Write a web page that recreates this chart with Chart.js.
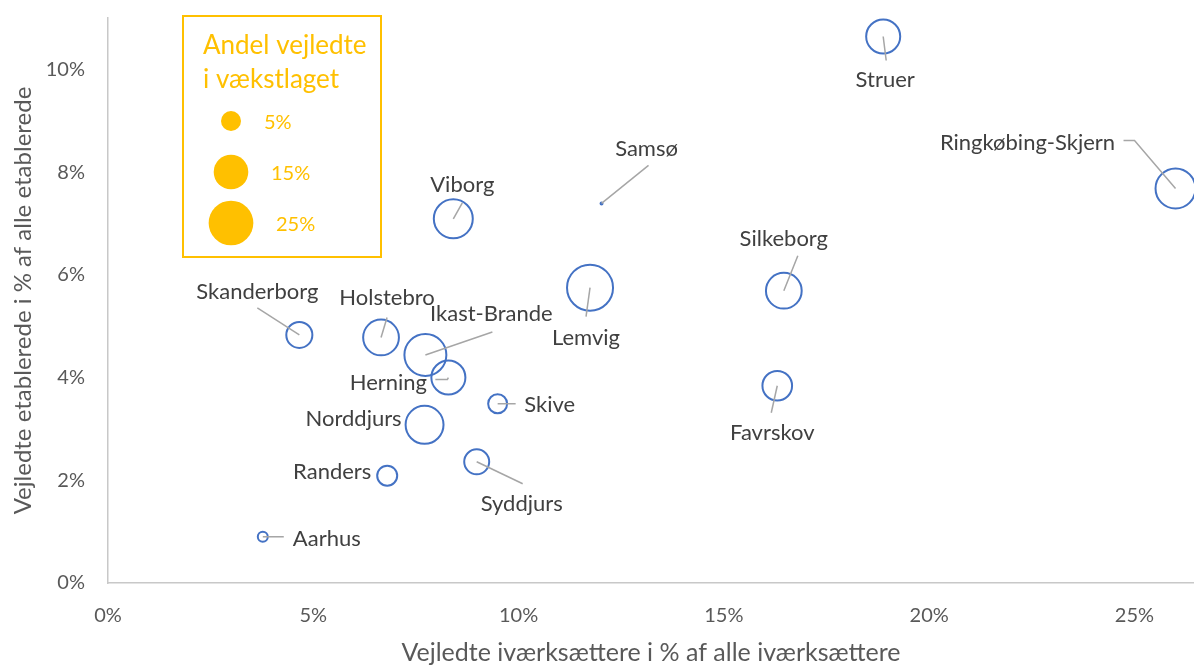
<!DOCTYPE html>
<html>
<head>
<meta charset="utf-8">
<script src="https://cdn.jsdelivr.net/npm/chart.js@4/dist/chart.umd.min.js"></script>
<style>
  html, body { margin: 0; padding: 0; background: #fff; }
  #wrap { width: 1194px; height: 666px; }
</style>
</head>
<body>
<div id="wrap"><canvas id="chart" width="1194" height="666"></canvas></div>
<script>
// Data
const municipalities = ["Struer", "Ringkøbing-Skjern", "Samsø", "Viborg", "Silkeborg", "Lemvig",
  "Skanderborg", "Holstebro", "Ikast-Brande", "Herning", "Skive", "Norddjurs", "Favrskov",
  "Syddjurs", "Randers", "Aarhus"];
const guidedEntrepreneurs = [18.88, 26.0, 12.02, 8.41, 16.46, 11.74, 4.66, 6.65, 7.73, 8.29, 9.49, 7.71, 16.3, 8.98, 6.8, 3.77];
const guidedEstablished = [10.64, 7.68, 7.39, 7.09, 5.69, 5.75, 4.83, 4.78, 4.44, 4.0, 3.49, 3.08, 3.84, 2.36, 2.09, 0.9];
const growthShare = [14.5, 20, 0.05, 19, 16, 26.5, 8.5, 16, 22, 14.5, 4.5, 18, 11, 7.8, 5, 1.25];
const xTicks = [0, 5, 10, 15, 20, 25];
const yTicks = [0, 2, 4, 6, 8, 10];
const legendSizes = [5, 15, 25];

// label placement: text offset from bubble centre and leader line (px)
const labelOffsets = [
  [2, 43], [-148, -46], [45, -55], [9, -34], [0, -52], [-4, 50],
  [-42, -43], [6, -40], [66, -41], [-60, 5], [52, 1], [-71, -6], [-5, 47],
  [45, 42], [-55, -4], [64, 2]
];
const leaderLines = [
  [[0, 0], [3, 24]], [[0, 0], [-41, -48], [-52, -48]], [[0, 0], [47, -38]], [[0, 0], [9, -16]],
  [[0, 0], [14, -35]], [[0, 0], [-4, 29]], [[0, 0], [-42, -27]], [[0, 0], [6, -20]],
  [[0, 0], [67, -23]], [[0, 0], [-1, 2], [-13, 2]], [[0, 0], [18, 0]], null,
  [[0, 0], [-6, 27]], [[0, 0], [46, 22]], null, [[0, 0], [21, 0]]
];

const FONT = "Lato, 'Open Sans', sans-serif";
const gold = "#FFC000";

function bubbleRadius(v) {
  return 4.47 * Math.sqrt(v);
}

const points = municipalities.map((name, i) => ({
  x: guidedEntrepreneurs[i],
  y: guidedEstablished[i],
  r: bubbleRadius(growthShare[i])
}));

const labelPlugin = {
  id: "bubbleLabels",
  afterDatasetsDraw(chart) {
    const ctx = chart.ctx;
    const meta = chart.getDatasetMeta(0);
    ctx.save();
    meta.data.forEach((el, i) => {
      const line = leaderLines[i];
      if (line) {
        ctx.beginPath();
        ctx.strokeStyle = "#a6a6a6";
        ctx.lineWidth = 1.5;
        line.forEach((p, j) => {
          if (j === 0) ctx.moveTo(el.x + p[0], el.y + p[1]);
          else ctx.lineTo(el.x + p[0], el.y + p[1]);
        });
        ctx.stroke();
      }
      ctx.fillStyle = "#404040";
      ctx.font = "22px " + FONT;
      ctx.textAlign = "center";
      ctx.textBaseline = "middle";
      ctx.fillText(municipalities[i], el.x + labelOffsets[i][0], el.y + labelOffsets[i][1]);
    });
    ctx.restore();
  }
};

// size legend box
const sizeLegendPlugin = {
  id: "sizeLegend",
  afterDraw(chart) {
    const ctx = chart.ctx;
    ctx.save();
    ctx.strokeStyle = gold;
    ctx.lineWidth = 2;
    ctx.strokeRect(183, 16, 198, 241);
    ctx.fillStyle = gold;
    ctx.font = "26px " + FONT;
    ctx.textAlign = "left";
    ctx.textBaseline = "alphabetic";
    ctx.fillText("Andel vejledte", 203, 54);
    ctx.fillText("i vækstlaget", 203, 88);
    const rows = [121, 172, 223];
    const textX = [264, 271, 276];
    ctx.font = "20px " + FONT;
    ctx.textBaseline = "middle";
    legendSizes.forEach((v, i) => {
      ctx.beginPath();
      ctx.arc(231, rows[i], bubbleRadius(v), 0, Math.PI * 2);
      ctx.fill();
      ctx.fillText(v + "%", textX[i], rows[i] + 2);
    });
    ctx.restore();
  }
};

const chart = new Chart(document.getElementById("chart"), {
  type: "bubble",
  data: {
    datasets: [{
      data: points,
      borderColor: "#4472C4",
      backgroundColor: "rgba(255,255,255,0)",
      borderWidth: 2,
      clip: false
    }]
  },
  options: {
    responsive: false,
    devicePixelRatio: 1,
    animation: false,
    events: [],
    layout: { padding: { top: 18, left: 0, right: 0, bottom: 0 }, autoPadding: false },
    plugins: {
      legend: { display: false },
      tooltip: { enabled: false }
    },
    scales: {
      x: {
        type: "linear",
        min: 0,
        max: 26.45,
        afterBuildTicks: s => { s.ticks = xTicks.map(v => ({ value: v })); },
        afterFit: s => { s.height = 83; s.paddingRight = 0; },
        grid: { display: false, drawTicks: false },
        border: { display: true, color: "#c8c8c8", width: 1.5 },
        ticks: {
          padding: 21,
          color: "#595959",
          font: { family: FONT, size: 20 },
          callback: v => v + "%"
        },
        title: {
          display: true,
          text: "Vejledte iværksættere i % af alle iværksættere",
          color: "#595959",
          font: { family: FONT, size: 25 },
          padding: { top: 0, bottom: -2 }
        }
      },
      y: {
        type: "linear",
        min: 0,
        max: 11,
        afterBuildTicks: s => { s.ticks = yTicks.map(v => ({ value: v })); },
        afterFit: s => { s.width = 108; s.paddingTop = 0; s.paddingBottom = 0; },
        grid: { display: false, drawTicks: false },
        border: { display: true, color: "#c8c8c8", width: 1.5 },
        ticks: {
          padding: 23,
          color: "#595959",
          font: { family: FONT, size: 20 },
          callback: v => v + "%"
        },
        title: {
          display: true,
          text: "Vejledte etablerede i % af alle etablerede",
          color: "#595959",
          font: { family: FONT, size: 24 },
          padding: { top: 9, bottom: 0 }
        }
      }
    }
  },
  plugins: [labelPlugin, sizeLegendPlugin]
});
</script>
</body>
</html>
